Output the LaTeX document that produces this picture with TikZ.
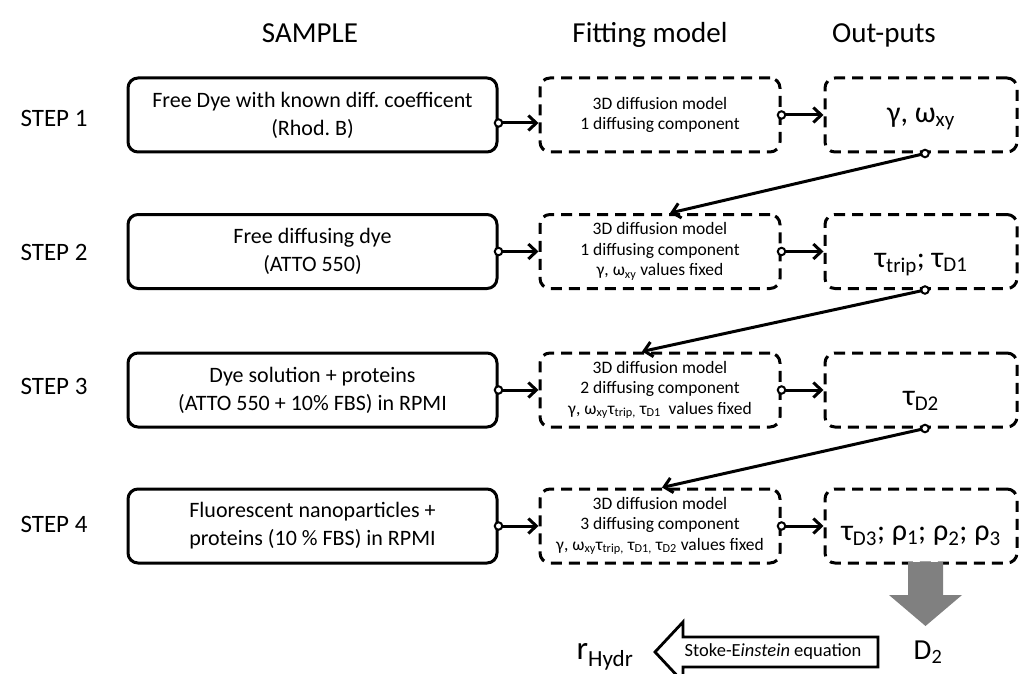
\documentclass[tikz,border=0pt]{standalone}
\usepackage{fontspec}
\setmainfont{Carlito}
\usetikzlibrary{arrows.meta,calc}
\newcommand\sbs[1]{\textsubscript{#1}}
\frenchspacing
\begin{document}
\begin{tikzpicture}[x=1pt,y=-1pt,
  samplebox/.style={draw, line width=3pt, rounded corners=10pt, minimum width=369pt, minimum height=74pt, align=center, font=\fontsize{22}{28}\selectfont, inner sep=0pt},
  fitbox/.style={draw, line width=3pt, dash pattern=on 11pt off 7pt, rounded corners=10pt, minimum width=240pt, minimum height=74pt, align=center, font=\fontsize{17.5}{20.5}\selectfont, inner sep=0pt},
  outbox/.style={draw, line width=3pt, dash pattern=on 11pt off 7pt, rounded corners=10pt, minimum width=192pt, minimum height=74pt, align=center, font=\fontsize{30}{32}\selectfont, inner sep=0pt, text height=31pt, text depth=0pt},
  hdr/.style={font=\fontsize{29}{32}\selectfont, inner sep=0pt, anchor=base},
  steplbl/.style={font=\fontsize{25}{28}\selectfont, inner sep=0pt},
  conn/.style={line width=3pt, -{Straight Barb[length=8pt,width=15pt]}},
  dot/.style={circle, draw, fill=white, line width=2pt, minimum size=7.5pt, inner sep=0pt},
  bigarrow/.style={fill=black!50},
  outarrow/.style={draw, fill=white, line width=2.8pt},
]
\useasboundingbox (0,0) rectangle (1020,674);
% headers
\node[hdr] (hs) at (310,43) {SAMPLE};
\node[hdr] (hf) at (650,43) {Fitting model};
\node[hdr] (ho) at (884,43) {Out-puts};
% step labels
\node[steplbl] (st1) at (54,118) {STEP 1};
\node[steplbl] (st2) at (54,252) {STEP 2};
\node[steplbl] (st3) at (54,386) {STEP 3};
\node[steplbl] (st4) at (54,524) {STEP 4};
% sample boxes
\node[samplebox] (s1) at (312.5,115) {Free Dye with known diff. coefficent\\(Rhod. B)};
\node[samplebox] (s2) at (312.5,251.5) {Free diffusing dye\\(ATTO 550)};
\node[samplebox] (s3) at (312.5,390) {Dye solution + proteins\\(ATTO 550 + 10\% FBS) in RPMI};
\node[samplebox] (s4) at (312.5,526) {Fluorescent nanoparticles +\\proteins (10 \% FBS) in RPMI};
% fitting boxes
\node[fitbox] (f1) at (660,115) {3D diffusion model\\1 diffusing component};
\node[fitbox] (f2) at (660,251.5) {3D diffusion model\\1 diffusing component\\γ, ω\sbs{xy} values fixed};
\node[fitbox] (f3) at (660,390) {3D diffusion model\\2 diffusing component\\γ, ω\sbs{xy}τ\sbs{trip,} τ\sbs{D1}\ \ values fixed};
\node[fitbox] (f4) at (660,526) {3D diffusion model\\3 diffusing component\\γ, ω\sbs{xy}τ\sbs{trip,} τ\sbs{D1,} τ\sbs{D2}\ values fixed};
% output boxes
\node[outbox, text height=16pt] (o1) at (921,115) {γ, ω\sbs{xy}};
\node[outbox] (o2) at (921,251.5) {τ\sbs{trip}; τ\sbs{D1}};
\node[outbox] (o3) at (921,390) {τ\sbs{D2}};
\node[outbox, text height=28pt] (o4) at (921,526) {τ\sbs{D3}; ρ\sbs{1}; ρ\sbs{2}; ρ\sbs{3}};
% horizontal connectors
\coordinate (a1) at ([yshift=-8pt]s1.east);
\coordinate (a2) at (s2.east);
\coordinate (a3) at (s3.east);
\coordinate (a4) at (s4.east);
\foreach \i in {1,2,3,4}{
  \draw[conn] (a\i) -- (a\i -| f\i.west);
  \draw[conn] (f\i.east) -- (o\i.west);
}
% diagonal connectors
\coordinate (d1) at ([xshift=4pt]o1.south);
\coordinate (d2) at ([xshift=4pt]o2.south);
\coordinate (d3) at ([xshift=4pt]o3.south);
\draw[conn] (d1) -- ([xshift=10pt]f2.north);
\draw[conn] (d2) -- ([xshift=-18pt]f3.north);
\draw[conn] (d3) -- ([xshift=2pt]f4.north);
% dots
\foreach \i in {1,2,3,4}{
  \node[dot] at (a\i) {};
  \node[dot] at (f\i.east) {};
}
\node[dot] at (d1) {};
\node[dot] at (d2) {};
\node[dot] at (d3) {};
% bottom part
\node[font=\fontsize{29}{30}\selectfont, inner sep=0pt] (D2) at (928,652) {D\sbs{2}};
\node[font=\fontsize{33}{34}\selectfont, inner sep=0pt] (rh) at (605,657) {r\sbs{Hydr}};
\fill[bigarrow] (908,562) -- (943,562) -- (943,595) -- (962,595) -- (925.5,626) -- (889,595) -- (908,595) -- cycle;
\draw[outarrow] (655,652) -- (683,622) -- (683,637) -- (878,637) -- (878,667) -- (683,667) -- (683,682) -- cycle;
\node[font=\fontsize{18.5}{22}\selectfont, inner sep=0pt] (se) at (773,652) {Stoke-E\textit{instein} equation};
\end{tikzpicture}
\end{document}
